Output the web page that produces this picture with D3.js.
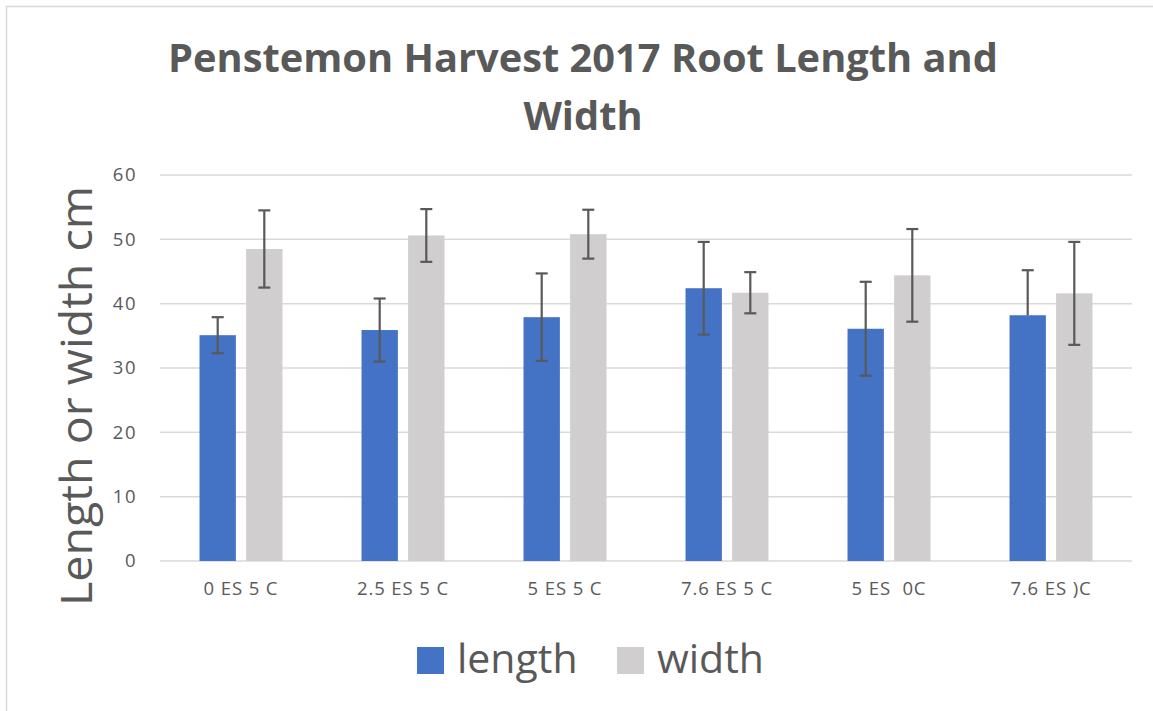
<!DOCTYPE html>
<html>
<head>
<meta charset="utf-8">
<script src="https://cdn.jsdelivr.net/npm/d3@7"></script>
<style>
  body { margin: 0; background: #fff; }
  text { font-family: "Open Sans", sans-serif; fill: #595959; }
</style>
</head>
<body>
<div id="chart"></div>
<script>
let categories = ['0 ES 5 C', '2.5 ES 5 C', '5 ES 5 C', '7.6 ES 5 C', '5 ES  0C', '7.6 ES )C'];
let seriesNames = ['length', 'width'];
let lengthValues = [35.1, 35.9, 37.9, 42.4, 36.1, 38.2];
let widthValues = [48.5, 50.6, 50.8, 41.7, 44.4, 41.6];
let lengthErrPlus = [2.8, 4.9, 6.8, 7.2, 7.3, 7.0];
let lengthErrMinus = [2.8, 4.9, 6.8, 7.2, 7.3, 0];
let widthErrPlus = [6.0, 4.1, 3.8, 3.2, 7.2, 8.0];
let widthErrMinus = [6.0, 4.1, 3.8, 3.2, 7.2, 8.0];
let yTicks = [0, 10, 20, 30, 40, 50, 60];
let colors = ['#4472c4', '#d0cece'];

let W = 1153, H = 711;
let margin = {top: 175, right: 21, bottom: 150, left: 160};
let width = W - margin.left - margin.right;
let height = H - margin.top - margin.bottom;

let svg = d3.select('#chart')
  .append('svg')
  .attr('width', W)
  .attr('height', H);

// outer chart border
svg.append('rect')
  .attr('x', 6.5).attr('y', 6.5)
  .attr('width', W).attr('height', H)
  .attr('fill', 'none')
  .attr('stroke', '#d9d9d9')
  .attr('stroke-width', 1.5);

let g = svg.append('g')
  .attr('transform', 'translate(' + margin.left + ',' + margin.top + ')');

let x0 = d3.scaleBand()
  .domain(categories)
  .range([0, width])
  .paddingInner(0.488)
  .paddingOuter(0.244);

let x1 = d3.scaleBand()
  .domain(seriesNames)
  .range([0, x0.bandwidth()])
  .paddingInner(0.22);

let y = d3.scaleLinear()
  .domain([0, 60])
  .range([height, 0]);

// gridlines
g.append('g')
  .selectAll('line')
  .data(yTicks)
  .enter()
  .append('line')
  .attr('x1', 0).attr('x2', width)
  .attr('y1', d => y(d)).attr('y2', d => y(d))
  .attr('stroke', '#d9d9d9')
  .attr('stroke-width', 1.5);

// y tick labels
let yAxis = d3.axisLeft(y).tickValues(yTicks).tickSize(0).tickPadding(23);
g.append('g')
  .attr('class', 'y axis')
  .call(yAxis)
  .call(s => s.select('.domain').remove())
  .selectAll('text')
  .style('font-size', '18.5px')
  .style('letter-spacing', '1.5px')
  .style('fill', '#595959');

// x labels
let xAxis = d3.axisBottom(x0).tickSize(0).tickPadding(21);
g.append('g')
  .attr('class', 'x axis')
  .attr('transform', 'translate(0,' + height + ')')
  .call(xAxis)
  .call(s => s.select('.domain').remove())
  .selectAll('text')
  .style('font-size', '18.5px')
  .style('letter-spacing', '0.9px')
  .style('fill', '#595959')
  .style('white-space', 'pre');

let data = categories.map((c, i) => ({
  cat: c,
  vals: [
    {name: 'length', v: lengthValues[i], up: lengthErrPlus[i], dn: lengthErrMinus[i]},
    {name: 'width', v: widthValues[i], up: widthErrPlus[i], dn: widthErrMinus[i]}
  ]
}));

let groups = g.selectAll('.grp')
  .data(data)
  .enter()
  .append('g')
  .attr('class', 'grp')
  .attr('transform', d => 'translate(' + x0(d.cat) + ',0)');

groups.selectAll('rect')
  .data(d => d.vals)
  .enter()
  .append('rect')
  .attr('x', d => x1(d.name))
  .attr('y', d => y(d.v))
  .attr('width', x1.bandwidth())
  .attr('height', d => height - y(d.v))
  .attr('fill', (d, i) => colors[i]);

// error bars
let errG = groups.selectAll('.err')
  .data(d => d.vals)
  .enter()
  .append('g')
  .attr('class', 'err')
  .attr('stroke', '#595959')
  .attr('stroke-width', 2.2);

let cx = d => x1(d.name) + x1.bandwidth() / 2;
errG.append('line')
  .attr('x1', cx).attr('x2', cx)
  .attr('y1', d => y(d.v + d.up))
  .attr('y2', d => y(d.v - d.dn));
errG.append('line')
  .attr('x1', d => cx(d) - 6).attr('x2', d => cx(d) + 6)
  .attr('y1', d => y(d.v + d.up)).attr('y2', d => y(d.v + d.up));
errG.filter(d => d.dn > 0)
  .append('line')
  .attr('x1', d => cx(d) - 6).attr('x2', d => cx(d) + 6)
  .attr('y1', d => y(d.v - d.dn)).attr('y2', d => y(d.v - d.dn));

// title
let t1 = svg.append('text')
  .attr('x', 583).attr('y', 72)
  .attr('text-anchor', 'middle')
  .style('font-size', '40px')
  .style('font-weight', 'bold')
  .text('Penstemon Harvest 2017 Root Length and');
let fit = 830 / t1.node().getComputedTextLength();
let titleSize = Math.min(40, 40 * fit);
t1.style('font-size', titleSize + 'px');
svg.append('text')
  .attr('x', 583).attr('y', 130)
  .attr('text-anchor', 'middle')
  .style('font-size', titleSize + 'px')
  .style('font-weight', 'bold')
  .text('Width');

// y label
svg.append('text')
  .attr('transform', 'translate(92,396) rotate(-90)')
  .attr('text-anchor', 'middle')
  .style('font-size', '44px')
  .attr('textLength', 420)
  .attr('lengthAdjust', 'spacingAndGlyphs')
  .text('Length or width cm');

// legend
let legend = svg.append('g');
let legendX = [417, 617];
seriesNames.forEach((n, i) => {
  legend.append('rect')
    .attr('x', legendX[i]).attr('y', 647)
    .attr('width', 27).attr('height', 27)
    .attr('fill', colors[i]);
  legend.append('text')
    .attr('x', legendX[i] + 40).attr('y', 673)
    .style('font-size', '41px')
    .text(n);
});
</script>
</body>
</html>
